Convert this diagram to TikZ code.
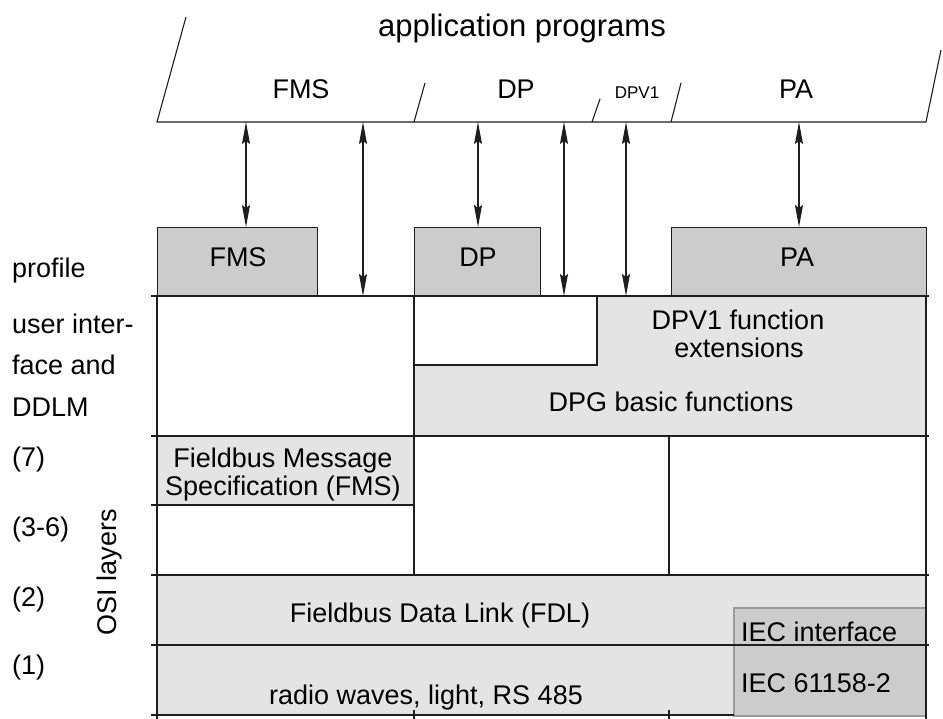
\documentclass[tikz,border=0pt]{standalone}
\usepackage{fontspec}
\setmainfont{Liberation Sans}
\usetikzlibrary{arrows.meta}

\definecolor{ink}{HTML}{1E1E1E}
\definecolor{layerfill}{HTML}{E4E4E4}
\definecolor{profilefill}{HTML}{CCCCCC}
\definecolor{iecedge}{HTML}{9A9A9A}

\begin{document}
\begin{tikzpicture}[x=1pt,y=-1pt,
  rulel/.style={draw=ink, line width=1.4pt},
  thinl/.style={draw=ink, line width=1.1pt},
  profbox/.style={draw=ink, line width=1.4pt, fill=profilefill, inner sep=0pt, anchor=north west},
  biarrow/.style={draw=ink, line width=1.2pt,
    {Stealth[length=22pt,width=8pt,inset=3pt]}-{Stealth[length=22pt,width=8pt,inset=3pt]}},
  txt/.style={inner sep=0pt, anchor=base, font=\fontsize{27}{30}\selectfont},
  sidetxt/.style={inner sep=0pt, anchor=base west, font=\fontsize{27}{30}\selectfont},
]
\useasboundingbox (0,0) rectangle (943,719);
\fill[white] (0,0) rectangle (943,719);

% ---- layer fills ----
\fill[layerfill] (597,296) -- (926,296) -- (926,436) -- (414,436) -- (414,365) -- (597,365) -- cycle;
\fill[layerfill] (157,436) rectangle (414,505);
\fill[layerfill] (157,575) rectangle (926,715);
\filldraw[fill=profilefill, draw=iecedge, line width=1.1pt] (734,608) rectangle (926,716);

% ---- profile boxes ----
\node[profbox, minimum width=160pt, minimum height=69pt] (pfms) at (157,227) {};
\node[profbox, minimum width=126pt, minimum height=69pt] (pdp)  at (414,227) {};
\node[profbox, minimum width=255pt, minimum height=69pt] (ppa)  at (671,227) {};

% ---- grid of layers ----
\foreach \yy in {296,436,575,645} {\draw[rulel] (151,\yy) -- (929,\yy);}
\draw[rulel] (151,715) -- (734,715);
\draw[rulel] (151,505) -- (414,505);
\draw[rulel] (157,296) -- (157,719);
\draw[rulel] (926,296) -- (926,719);
\draw[rulel] (414,296) -- (414,575);
\draw[rulel] (669,436) -- (669,575);
\draw[rulel] (414,365) -- (597,365) -- (597,296);
\draw[thinl] (414,710) -- (414,719);
\draw[thinl] (669,710) -- (669,719);

% ---- application programs band ----
\coordinate (bl) at (157,122);
\coordinate (br) at (926,122);
\draw[thinl] (186,17) -- (bl) -- (br) -- (941,50);
\draw[thinl] (414,122) -- (425,83);
\draw[thinl] (592,122) -- (600,99);
\draw[thinl] (671,122) -- (681,83);

% ---- interface arrows ----
\coordinate (a1) at (246,122);
\coordinate (a2) at (363,122);
\coordinate (a3) at (478,122);
\coordinate (a4) at (564,122);
\coordinate (a5) at (626,122);
\coordinate (a6) at (799,122);
\coordinate (e2) at (363,296);
\coordinate (e4) at (564,296);
\coordinate (e5) at (626,296);
\draw[biarrow] (a1) -- (a1 |- pfms.north);
\draw[biarrow] (a2) -- (e2);
\draw[biarrow] (a3) -- (a3 |- pdp.north);
\draw[biarrow] (a4) -- (e4);
\draw[biarrow] (a5) -- (e5);
\draw[biarrow] (a6) -- (a6 |- ppa.north);

% ---- labels: application side ----
\node[txt, font=\fontsize{31}{33}\selectfont] (tapp) at (522,37) {application programs};
\node[txt] (tfms) at (301,99) {FMS};
\node[txt] (tdp) at (516,99) {DP};
\node[txt, font=\fontsize{17}{20}\selectfont] (tdpv) at (637,99) {DPV1};
\node[txt] (tpa) at (796,99) {PA};

% ---- labels: profiles ----
\node[txt] (lfms) at (238,267) {FMS};
\node[txt] (ldp) at (478,267) {DP};
\node[txt] (lpa) at (797,267) {PA};

% ---- labels: layer contents ----
\node[txt] (dpv1a) at (738,330) {DPV1 function};
\node[txt] (dpv1b) at (739,358) {extensions};
\node[txt] (dpg) at (671,412) {DPG basic functions};
\node[txt] (fmsa) at (283,467) {Fieldbus Message};
\node[txt] (fmsb) at (283,495) {Specification (FMS)};
\node[txt] (fdl) at (440,622) {Fieldbus Data Link (FDL)};
\node[txt] (phy) at (426,704) {radio waves, light, RS 485};
\node[sidetxt] (ieca) at (741,641) {IEC interface};
\node[sidetxt] (iecb) at (741,692) {IEC 61158-2};

% ---- labels: left column ----
\node[sidetxt] (sprof) at (12,278) {profile};
\node[sidetxt] (sui1) at (12,334) {user inter-};
\node[sidetxt] (sui2) at (12,375) {face and};
\node[sidetxt] (sui3) at (12,417) {DDLM};
\node[sidetxt] (s7) at (12,466) {(7)};
\node[sidetxt] (s36) at (12,536) {(3-6)};
\node[sidetxt] (s2) at (12,606) {(2)};
\node[sidetxt] (s1) at (12,674) {(1)};
\node[inner sep=0pt, rotate=90, font=\fontsize{27}{30}\selectfont] (osi) at (110,572) {OSI layers};
\end{tikzpicture}
\end{document}
